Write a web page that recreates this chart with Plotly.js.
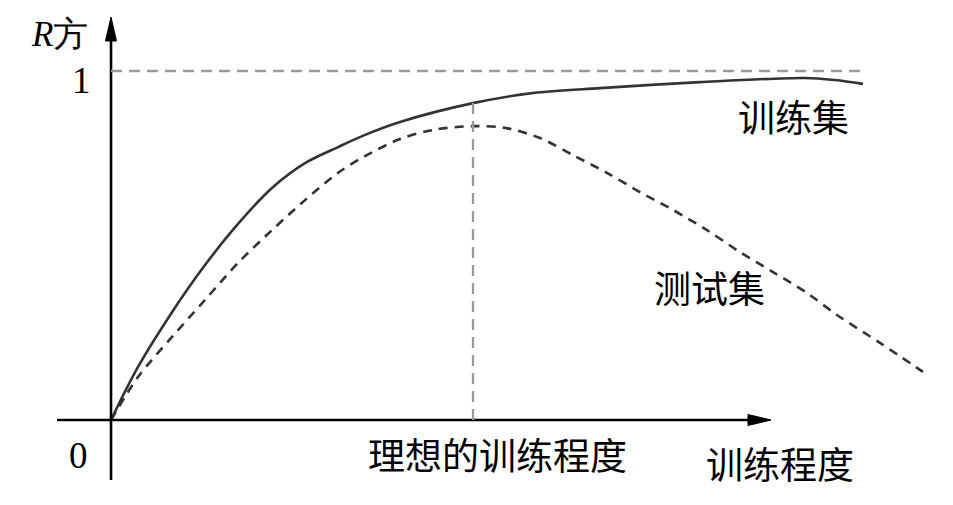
<!DOCTYPE html>
<html>
<head>
<meta charset="utf-8">
<script src="https://cdn.plot.ly/plotly-3.0.1.min.js"></script>
<style>
  html, body { margin: 0; padding: 0; background: #fff; }
  #chart { width: 953px; height: 505px; }
</style>
</head>
<body>
<div id="chart"></div>
<script>
// Training degree (x) versus R-squared (y) for training and test sets
const trainX = [0, 0.27, 0.61, 0.94, 1.27, 1.61, 1.94, 2.27, 2.54, 2.89, 3.62, 4.22, 4.89, 5.89, 6.94, 7.24, 7.52];
const trainY = [0, 0.152, 0.309, 0.444, 0.562, 0.665, 0.736, 0.782, 0.817, 0.854, 0.908, 0.937, 0.951, 0.968, 0.98, 0.974, 0.963];

const testX = [0, 0.27, 0.61, 0.94, 1.27, 1.61, 1.94, 2.27, 2.54, 2.89, 3.22, 3.62, 3.94, 4.29, 4.62, 4.96, 5.29, 5.62, 5.96, 6.29, 6.62, 6.96, 7.26, 7.69, 8.12];
const testY = [0, 0.123, 0.238, 0.344, 0.45, 0.544, 0.63, 0.708, 0.756, 0.805, 0.831, 0.842, 0.837, 0.808, 0.759, 0.708, 0.653, 0.602, 0.544, 0.481, 0.424, 0.364, 0.301, 0.221, 0.138];

// Ideal training degree (where the test curve peaks) and the R-squared ceiling
const idealX = 3.62;
const idealTrainY = 0.908;
const ceilingY = 1;
const ceilingEndX = 7.54;

const seriesLabels = ['训练集', '测试集'];
const axisLabelX = '训练程度';
const axisLabelY = '<i>R</i>方';
const idealLabel = '理想的训练程度';
const tickLabels = ['0', '1'];

const W = 953, H = 505;
// Scale: 100 px per x unit, 349 px per y unit; origin at pixel (111, 420)
const PX_X = 100, PX_Y = 349, OX = 111, OY = 420;
const xRange = [-OX / PX_X, (W - OX) / PX_X];
const yRange = [-(H - OY) / PX_Y, OY / PX_Y];

const curveColor = '#333333';
const guideColor = '#9a9a9a';
const cjk = '"Noto Sans CJK SC", "Noto Sans", sans-serif';
const serif = '"Liberation Serif", "DejaVu Serif", serif';

const traces = [
  {
    x: trainX, y: trainY, type: 'scatter', mode: 'lines', name: seriesLabels[0],
    line: { color: curveColor, width: 2.6, shape: 'spline', smoothing: 0.9 },
    hoverinfo: 'skip'
  },
  {
    x: testX, y: testY, type: 'scatter', mode: 'lines', name: seriesLabels[1],
    line: { color: curveColor, width: 2.6, shape: 'spline', smoothing: 0.9, dash: '9px,7px' },
    hoverinfo: 'skip'
  }
];

// axis arrows in data units
const xTip = (771 - OX) / PX_X, xBase = (748 - OX) / PX_X, xHalf = 5.5 / PX_Y;
const yTip = (OY - 17) / PX_Y, yBase = (OY - 41) / PX_Y, yHalf = 5.5 / PX_X;

const shapes = [
  // horizontal axis
  { type: 'line', xref: 'x', yref: 'y', x0: (57 - OX) / PX_X, x1: xBase + 0.02, y0: 0, y1: 0,
    line: { color: '#000', width: 2.6 } },
  { type: 'path', xref: 'x', yref: 'y',
    path: `M${xTip},0 L${xBase},${xHalf} L${xBase},${-xHalf} Z`,
    fillcolor: '#000', line: { color: '#000', width: 1 } },
  // vertical axis
  { type: 'line', xref: 'x', yref: 'y', x0: 0, x1: 0, y0: -(480 - OY) / PX_Y, y1: yBase + 0.01,
    line: { color: '#000', width: 2.6 } },
  { type: 'path', xref: 'x', yref: 'y',
    path: `M0,${yTip} L${yHalf},${yBase} L${-yHalf},${yBase} Z`,
    fillcolor: '#000', line: { color: '#000', width: 1 } },
  // ceiling R-squared = 1
  { type: 'line', xref: 'x', yref: 'y', x0: 0, x1: ceilingEndX, y0: ceilingY, y1: ceilingY,
    line: { color: guideColor, width: 2.3, dash: '11px,7px' } },
  // ideal training degree guide
  { type: 'line', xref: 'x', yref: 'y', x0: idealX, x1: idealX, y0: 0, y1: idealTrainY,
    line: { color: guideColor, width: 2.3, dash: '11px,7px' } }
];

function label(text, px, py, size, family) {
  return {
    text: text, xref: 'paper', yref: 'paper', x: px / W, y: 1 - py / H,
    xanchor: 'center', yanchor: 'middle', showarrow: false,
    font: { family: family, size: size, color: '#000' }
  };
}

const annotations = [
  label(axisLabelY, 59, 34, 35, serif),
  label(tickLabels[1], 81, 80, 37, serif),
  label(tickLabels[0], 78, 455, 37, serif),
  label(axisLabelX, 780, 463, 37, cjk),
  label(idealLabel, 497, 454, 37, cjk),
  label(seriesLabels[0], 793, 116, 37, cjk),
  label(seriesLabels[1], 709, 287, 37, cjk)
];

const layout = {
  width: W, height: H,
  margin: { l: 0, r: 0, t: 0, b: 0, pad: 0 },
  paper_bgcolor: '#fff', plot_bgcolor: '#fff',
  showlegend: false,
  xaxis: { range: xRange, visible: false, fixedrange: true },
  yaxis: { range: yRange, visible: false, fixedrange: true },
  shapes: shapes,
  annotations: annotations
};

Plotly.newPlot('chart', traces, layout, { displayModeBar: false, staticPlot: true });
</script>
</body>
</html>
